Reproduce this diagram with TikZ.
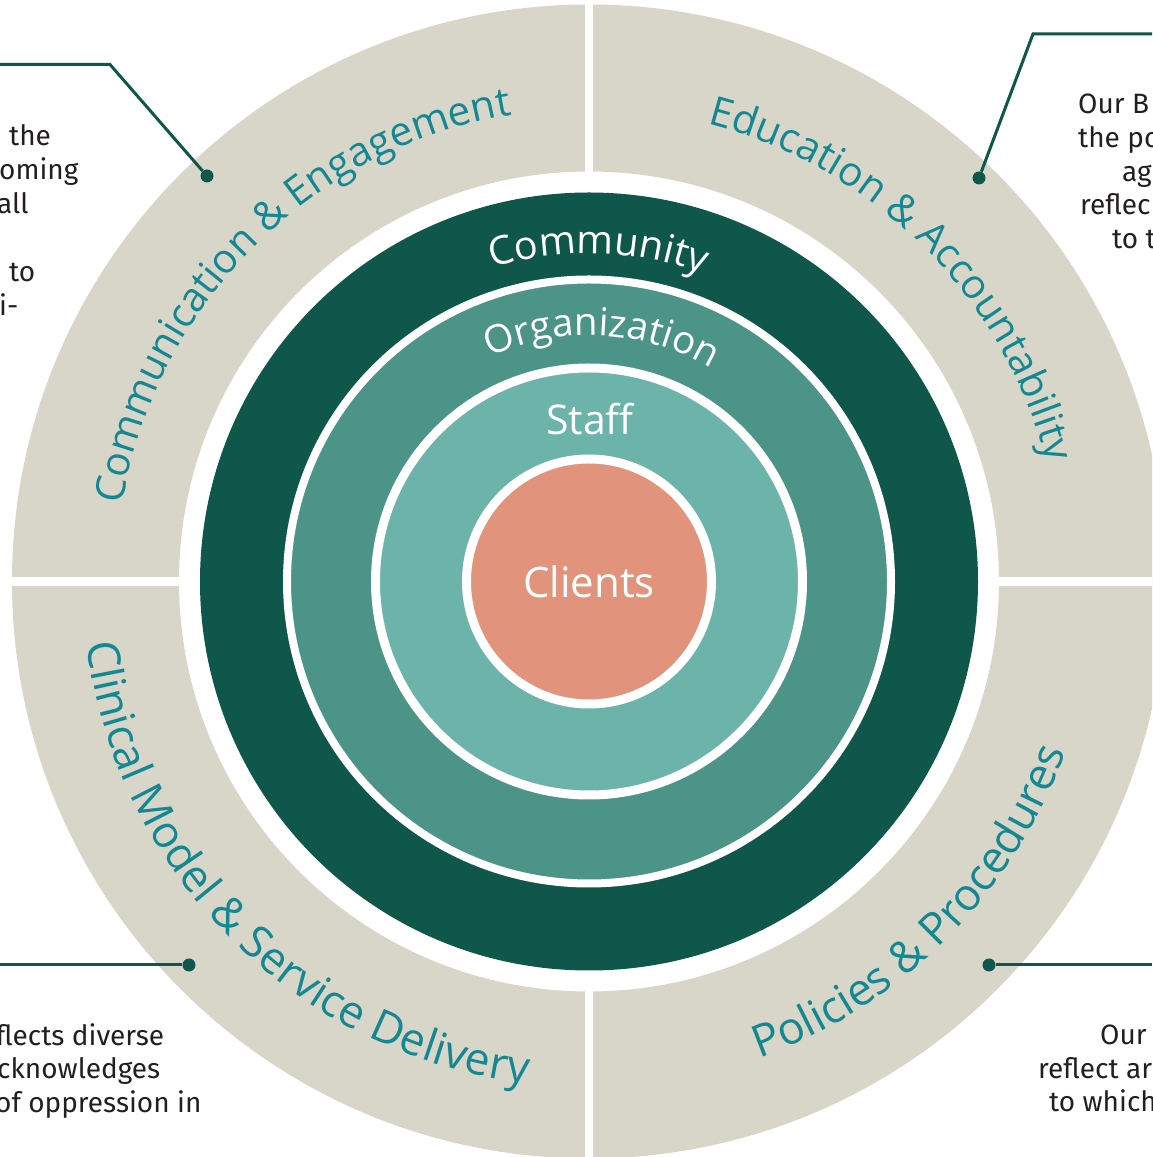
\documentclass[tikz,border=0pt]{standalone}
\usepackage{fontspec}
\setmainfont{Open Sans}
\newfontfamily\notefont{Fira Sans}
\usetikzlibrary{decorations.text}

\definecolor{beige}{HTML}{D8D5C9}
\definecolor{darkgreen}{HTML}{0F564B}
\definecolor{midteal}{HTML}{4C9388}
\definecolor{lightteal}{HTML}{6CB3A9}
\definecolor{salmon}{HTML}{E2937B}
\definecolor{labelblue}{HTML}{138892}
\definecolor{notegrey}{HTML}{231F20}

\newcommand\ringfont{\fontsize{42}{50}\selectfont}
\newcommand\topfont{\fontsize{40.5}{48}\selectfont}
\newcommand\lowfont{\fontsize{44.5}{52}\selectfont}
\newcommand\layerfont{\fontsize{41}{49}\selectfont}

\begin{document}
\begin{tikzpicture}[x=1pt,y=1pt,
  layer/.style={circle,inner sep=0pt,outer sep=0pt,draw=white},
  dot/.style={circle,fill=darkgreen,inner sep=0pt,minimum size=13pt},
  callout/.style={draw=darkgreen,line width=3pt},
  note/.style={anchor=base west,inner sep=0pt,text=notegrey,font=\notefont\fontsize{28}{34}\selectfont}]
  \useasboundingbox (0,0) rectangle (1152,1157);
  \clip (0,0) rectangle (1152,1157);
  \coordinate (c) at (589,575.5);

  \fill[beige,even odd rule] (c) circle[radius=577] (c) circle[radius=410];
  \fill[white] (585,0) rectangle (593,1157);
  \fill[white] (0,571) rectangle (1152,580);

  \node[layer,fill=darkgreen,draw=none,minimum size=778] (community) at (c) {};
  \node[layer,fill=midteal,line width=8,minimum size=604] (organization) at (c) {};
  \node[layer,fill=lightteal,line width=9,minimum size=427] (staff) at (c) {};
  \node[layer,fill=salmon,line width=9,minimum size=245,text=white,font=\ringfont] (clients) at (c) {Clients};
  \node[text=white,font=\layerfont] (stafflabel) at (590,738) {Staff};

  \path[shift={(c)},decorate,decoration={text along path,text align=center,
    text={|\color{white}\fontsize{39.5}{48}\selectfont|Community}}] (148.3:328) arc[start angle=148.3,end angle=28.3,radius=328];
  \path[shift={(c)},decorate,decoration={text along path,text align=center,
    text={|\color{white}\fontsize{38.5}{46}\selectfont|Organization}}] (147:246) arc[start angle=147,end angle=27,radius=246];

  \path[shift={(c)},decorate,decoration={text along path,text align=center,
    text={|\color{labelblue}\topfont|Communication {\&} Engagement}}] (180:473) arc[start angle=180,end angle=90,radius=473];
  \path[shift={(c)},decorate,decoration={text along path,text align=center,
    text={|\color{labelblue}\topfont|Education {\&} Accountability}}] (90:473) arc[start angle=90,end angle=0,radius=473];
  \path[shift={(c)},decorate,decoration={text along path,text align=center,
    text={|\color{labelblue}\lowfont|Clinical Model {\&} Service Delivery}}] (180:506) arc[start angle=180,end angle=270,radius=506];
  \path[shift={(c)},decorate,decoration={text along path,text align=center,
    text={|\color{labelblue}\lowfont|Policies {\&} Procedures}}] (270:506) arc[start angle=270,end angle=360,radius=506];

  \node[dot] (tldot) at (207,981) {};
  \coordinate (tlbend) at (110,1092.5);
  \coordinate (tlend) at (0,1092.5);
  \draw[callout] (tldot) -- (tlbend) -- (tlend);
  \node[dot] (trdot) at (979,979) {};
  \coordinate (trbend) at (1033,1123);
  \coordinate (trend) at (1152,1123);
  \draw[callout] (trdot) -- (trbend) -- (trend);
  \node[dot] (bldot) at (189,192) {};
  \coordinate (blend) at (0,192);
  \draw[callout] (bldot) -- (blend);
  \node[dot] (brdot) at (989,192) {};
  \coordinate (brend) at (1152,192);
  \draw[callout] (brdot) -- (brend);

  \foreach \x/\y/\t [count=\i] in {9/1011/the,-1/977/oming,-3/943/all,9/875/to,-1/841/i-}
    \node[note] (tlnote\i) at (\x,\y) {\t};
  \foreach \x/\y/\t [count=\i] in {1078/1043/Our B,1078/1009/the po,1122/975/ag,1080/942/reflec,1112/908/to t}
    \node[note] (trnote\i) at (\x,\y) {\t};
  \foreach \x/\y/\t [count=\i] in {-4/111/flects diverse,-3/78/cknowledges,-5/44/of oppression in}
    \node[note] (blnote\i) at (\x,\y) {\t};
  \foreach \x/\y/\t [count=\i] in {1100/112/Our,1038/78/reflect ar,1049/45/to which}
    \node[note] (brnote\i) at (\x,\y) {\t};
\end{tikzpicture}
\end{document}
